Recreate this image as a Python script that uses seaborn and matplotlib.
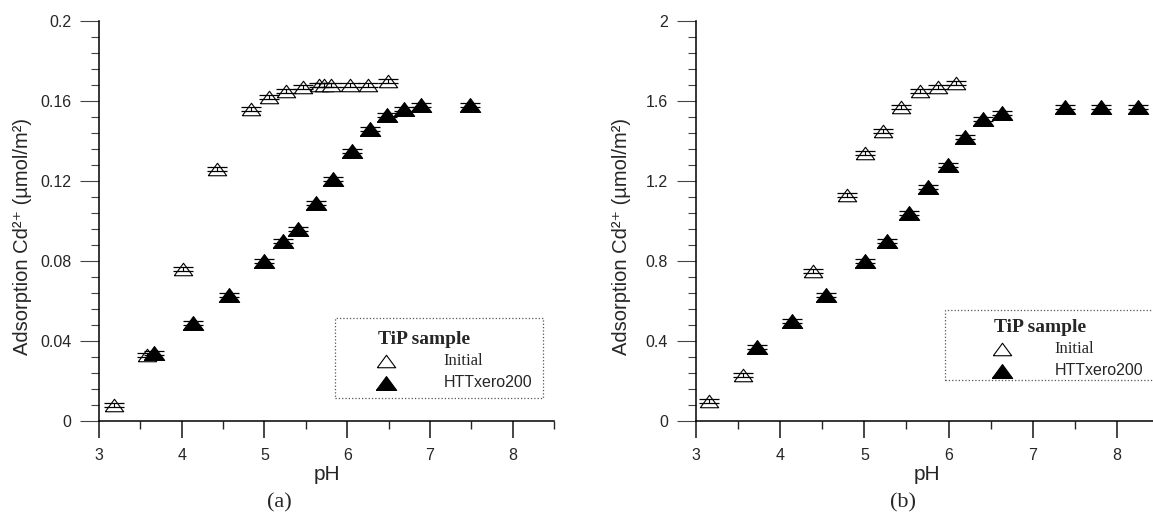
import numpy as np
import pandas as pd
import matplotlib
matplotlib.use("Agg")
import matplotlib.pyplot as plt
from matplotlib.patches import Rectangle
from matplotlib.ticker import MultipleLocator, FuncFormatter
import seaborn as sns

# panel (a): adsorption per m2, low range
ph_init_a = [3.18, 3.58, 4.01, 4.42, 4.84, 5.05, 5.26, 5.47, 5.66, 5.72, 5.80, 6.03, 6.25, 6.49]
ads_init_a = [0.008, 0.033, 0.076, 0.126, 0.156, 0.162, 0.165, 0.167, 0.168, 0.168, 0.168, 0.168, 0.168, 0.170]
ph_htt_a = [3.67, 4.13, 4.57, 4.99, 5.22, 5.41, 5.62, 5.83, 6.06, 6.28, 6.48, 6.69, 6.89, 7.48]
ads_htt_a = [0.034, 0.049, 0.063, 0.080, 0.090, 0.096, 0.109, 0.121, 0.135, 0.146, 0.153, 0.156, 0.158, 0.158]

# panel (b)
ph_init_b = [3.15, 3.56, 4.39, 4.80, 5.01, 5.22, 5.44, 5.66, 5.87, 6.09]
ads_init_b = [0.10, 0.23, 0.75, 1.13, 1.34, 1.45, 1.57, 1.65, 1.67, 1.69]
ph_htt_b = [3.73, 4.14, 4.55, 5.01, 5.27, 5.53, 5.76, 5.99, 6.19, 6.41, 6.64, 7.38, 7.81, 8.25]
ads_htt_b = [0.37, 0.50, 0.63, 0.80, 0.90, 1.04, 1.17, 1.28, 1.42, 1.51, 1.54, 1.57, 1.57, 1.57]

# small symmetric error on each point (drawn as caps)
err_a = 0.001
err_b = 0.01

series_names = ["Initial", "HTTxero200"]
panel_labels = ["(a)", "(b)"]

sns.set_style("ticks")
plt.rcParams["font.family"] = ["Liberation Sans", "DejaVu Sans"]
plt.rcParams["mathtext.fontset"] = "custom"
plt.rcParams["mathtext.rm"] = "Liberation Sans"
plt.rcParams["mathtext.default"] = "rm"

SERIF = ["Liberation Serif", "DejaVu Serif"]

# flattened triangle, like the original symbols
tri = [(-1.0, -0.68), (1.0, -0.68), (0.0, 0.68), (-1.0, -0.68)]

fig = plt.figure(figsize=(11.53, 5.15), dpi=100)
ax_a = fig.add_axes([0.0859, 0.1831, 0.3946, 0.7767])
ax_b = fig.add_axes([0.6036, 0.1831, 0.4016, 0.7767])


def draw_panel(ax, ph_i, ads_i, ph_h, ads_h, err, ymax, ystep, ylab_x):
    df_i = pd.DataFrame({"pH": ph_i, "ads": ads_i})
    df_h = pd.DataFrame({"pH": ph_h, "ads": ads_h})

    sns.scatterplot(data=df_i, x="pH", y="ads", ax=ax, marker=tri, s=175,
                    color="white", edgecolor="black", linewidth=0.8,
                    label=series_names[0], zorder=2)
    sns.scatterplot(data=df_h, x="pH", y="ads", ax=ax, marker=tri, s=215,
                    color="black", edgecolor="black", linewidth=0.8,
                    label=series_names[1], zorder=2)
    for d in (df_i, df_h):
        ax.errorbar(d["pH"], d["ads"], yerr=err, fmt="none", ecolor="black",
                    elinewidth=0.8, capsize=7.5, capthick=0.9, zorder=3)

    ax.set_xlim(3, 8.5)
    ax.set_ylim(0, ymax)
    ax.xaxis.set_major_locator(MultipleLocator(1))
    ax.xaxis.set_minor_locator(MultipleLocator(0.5))
    ax.yaxis.set_major_locator(MultipleLocator(ystep))
    ax.yaxis.set_minor_locator(MultipleLocator(ystep / 5))
    ax.yaxis.set_major_formatter(FuncFormatter(lambda v, p: "%g" % round(v, 4)))

    sns.despine(ax=ax)
    for side in ("left", "bottom"):
        ax.spines[side].set_linewidth(1.1)
        ax.spines[side].set_color("black")

    ax.tick_params(axis="y", which="major", direction="out", length=14, width=0.8,
                   pad=6, labelsize=11.5, color="#444444")
    ax.tick_params(axis="y", which="minor", direction="out", length=5.5, width=0.8,
                   color="#444444")
    ax.tick_params(axis="x", which="major", direction="out", length=12, width=1.2,
                   pad=8, labelsize=11.5)
    ax.tick_params(axis="x", which="minor", direction="out", length=5.5, width=1.0)

    ax.set_xlabel("pH", fontsize=15, labelpad=1)
    ax.set_ylabel("Adsorption Cd²⁺ (µmol/m²)", fontsize=14.5)
    ax.yaxis.set_label_coords(ylab_x, 0.46)
    ax.get_legend().remove()


draw_panel(ax_a, ph_init_a, ads_init_a, ph_htt_a, ads_htt_a, err_a, 0.2, 0.04, -0.147)
draw_panel(ax_b, ph_init_b, ads_init_b, ph_htt_b, ads_htt_b, err_b, 2.0, 0.4, -0.14)

# legends with dotted frames
legend_spots = [
    (ax_a, (0.519, 0.057, 0.457, 0.200), (0.614, 0.225), 3.1),
    (ax_b, (0.538, 0.102, 0.600, 0.175), (0.643, 0.255), 2.8),
]
for ax, box, anchor, textpad in legend_spots:
    ax.add_patch(Rectangle(box[:2], box[2], box[3], transform=ax.transAxes,
                           fill=False, ls=":", lw=0.9, ec="#555555",
                           clip_on=False, zorder=1))
    handles, labels = ax.get_legend_handles_labels()
    leg = ax.legend(handles, labels, loc="upper left", bbox_to_anchor=anchor,
                    frameon=False, title="TiP sample", alignment="left",
                    fontsize=11.5, handlelength=1.0, handletextpad=textpad,
                    labelspacing=0.35, borderpad=0, borderaxespad=0,
                    scatterpoints=1)
    leg.get_title().set_fontfamily(SERIF)
    leg.get_title().set_fontweight("bold")
    leg.get_title().set_fontsize(14)
    leg.get_texts()[0].set_fontfamily(SERIF)
    leg.get_texts()[0].set_fontsize(12)
    leg.get_texts()[1].set_fontfamily(["Liberation Sans", "DejaVu Sans"])

fig.text(279 / 1153, 1 - 503 / 515, panel_labels[0], ha="center", va="center",
         fontsize=16, family=SERIF)
fig.text(903 / 1153, 1 - 503 / 515, panel_labels[1], ha="center", va="center",
         fontsize=16, family=SERIF)

fig.savefig("out.png", dpi=100)
